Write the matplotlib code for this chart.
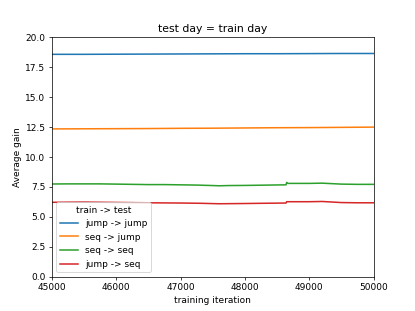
import matplotlib
matplotlib.use("Agg")
import matplotlib.pyplot as plt

iters_blue = [45000, 45500, 46000, 46500, 47000, 47500, 48000, 48500, 49000, 49500, 50000]
jump_jump = [18.58, 18.58, 18.59, 18.60, 18.61, 18.62, 18.63, 18.63, 18.64, 18.65, 18.65]

iters_orange = [45000, 45500, 46000, 46500, 47000, 47500, 48000, 48500, 49000, 49500, 50000]
seq_jump = [12.35, 12.36, 12.37, 12.38, 12.40, 12.41, 12.43, 12.45, 12.46, 12.48, 12.50]

iters_green = [45000, 45250, 45500, 45750, 46000, 46250, 46500, 46750, 47000, 47250, 47500, 47600,
               47750, 48000, 48250, 48500, 48640, 48650, 48670, 48750, 49000, 49200, 49500, 49750, 50000]
seq_seq = [7.75, 7.76, 7.76, 7.76, 7.74, 7.72, 7.70, 7.70, 7.68, 7.66, 7.62, 7.60,
           7.62, 7.63, 7.65, 7.67, 7.68, 7.88, 7.80, 7.80, 7.80, 7.82, 7.74, 7.72, 7.72]

iters_red = [45000, 45500, 46000, 46500, 47000, 47300, 47600, 48000, 48300, 48640, 48650,
             49000, 49200, 49500, 49750, 50000]
jump_seq = [6.22, 6.24, 6.21, 6.18, 6.16, 6.14, 6.10, 6.12, 6.14, 6.16, 6.27,
            6.27, 6.29, 6.20, 6.18, 6.18]

fig, ax = plt.subplots(figsize=(415/65, 311/65), dpi=65)
lw = 1.7
ax.plot(iters_blue, jump_jump, label="jump -> jump", lw=lw)
ax.plot(iters_orange, seq_jump, label="seq -> jump", lw=lw)
ax.plot(iters_green, seq_seq, label="seq -> seq", lw=lw)
ax.plot(iters_red, jump_seq, label="jump -> seq", lw=lw)
ax.set_xlim(45000, 50000)
ax.set_ylim(0, 20)
ax.set_xlabel("training iteration")
ax.set_ylabel("Average gain")
ax.set_title("test day = train day")
ax.legend(title="train -> test", loc="lower left")
fig.savefig("out.png", dpi=65)
